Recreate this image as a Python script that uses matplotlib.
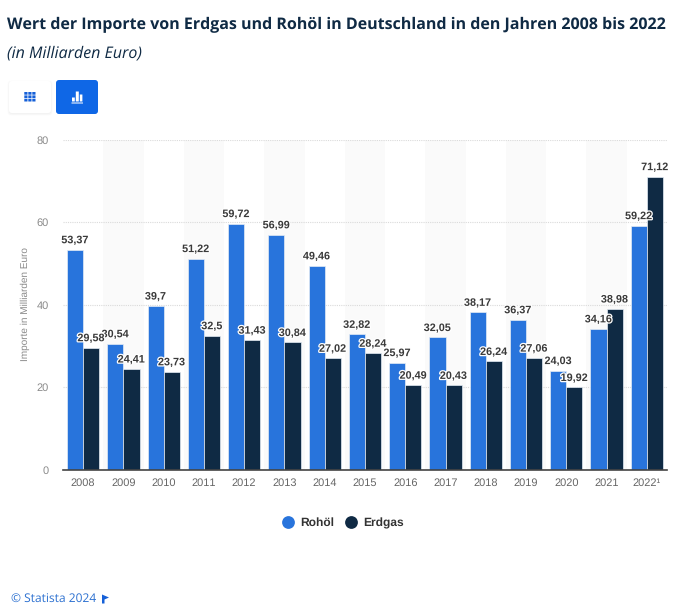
import matplotlib
matplotlib.use("Agg")
import matplotlib.pyplot as plt
import matplotlib.patheffects as pe
from matplotlib.patches import FancyBboxPatch, Rectangle, Polygon
from matplotlib.lines import Line2D
import numpy as np

plt.rcParams["text.hinting"] = "no_hinting"
plt.rcParams["text.hinting_factor"] = 1

years = ["2008","2009","2010","2011","2012","2013","2014","2015","2016","2017","2018","2019","2020","2021","2022¹"]
rohoel = [53.37,30.54,39.7,51.22,59.72,56.99,49.46,32.82,25.97,32.05,38.17,36.37,24.03,34.16,59.22]
erdgas = [29.58,24.41,23.73,32.5,31.43,30.84,27.02,28.24,20.49,20.43,26.24,27.06,19.92,38.98,71.12]
title = "Wert der Importe von Erdgas und Rohöl in Deutschland in den Jahren 2008 bis 2022"
subtitle = "(in Milliarden Euro)"
ylabel = "Importe in Milliarden Euro"
series_names = ["Rohöl", "Erdgas"]
C1, C2 = "#2874DC", "#0F2A44"

W, H = 680, 606
fig = plt.figure(figsize=(W/100, H/100), dpi=100, facecolor="white")
def fx(p): return p/W
def fy(p): return 1-p/H

L, R, T, B = 63, 667, 140, 469.5
ax = fig.add_axes([fx(L), fy(B), (R-L)/W, (B-T)/H])
x = np.arange(len(years))
ax.set_xlim(-0.5, len(years)-0.5)
ax.set_ylim(0, 80)
for i in x:
    if i % 2 == 1:
        ax.axvspan(i-0.5, i+0.5, color="#FAFAFA", lw=0, zorder=0)
ax.set_yticks([0,20,40,60,80])
ax.grid(axis="y", color="#DADADA", lw=0.8, ls=(0,(1,1)), zorder=1)
w = 0.40
b1 = ax.bar(x-w/2, rohoel, w, color=C1, edgecolor="#E4ECF5", lw=0.5, zorder=2)
b2 = ax.bar(x+w/2, erdgas, w, color=C2, edgecolor="#E4ECF5", lw=0.5, zorder=2)
halo = [pe.withStroke(linewidth=1.8, foreground="white")]
for bars, vals in ((b1, rohoel), (b2, erdgas)):
    for r, v in zip(bars, vals):
        ax.annotate(f"{v:g}".replace(".", ","), (r.get_x()+r.get_width()/2, v),
                    xytext=(0, 3), textcoords="offset points", ha="center", va="bottom",
                    fontsize=7.8, fontweight="bold", color="#3A3A3A",
                    family="Liberation Sans", zorder=5, path_effects=halo,
                    annotation_clip=False)
ax.set_xticks(x, years, family="Liberation Sans", fontsize=8, color="#666666")
ax.set_yticklabels(["0","20","40","60","80"], family="Liberation Sans", fontsize=8, color="#8A8A8A")
ax.tick_params(length=0)
ax.tick_params(axis="x", pad=6)
ax.tick_params(axis="y", pad=10)
for s in ["top","right","left"]:
    ax.spines[s].set_visible(False)
ax.spines["bottom"].set_color("#444444")
ax.spines["bottom"].set_linewidth(1.2)
ax.spines["bottom"].set_zorder(4)
fig.text(fx(25), fy(304), ylabel, rotation=90, ha="center", va="center",
         family="Liberation Sans", fontsize=7.4, color="#8A8A8A")

fig.text(fx(7), fy(25), title, family="Open Sans", fontsize=11.7, fontweight="bold", color="#0F2A44", va="center")
fig.text(fx(7), fy(53), subtitle, family="Open Sans", fontsize=11.3, style="italic", color="#0F2A44", va="center")

overlay = fig.add_axes([0,0,1,1], facecolor="none")
overlay.set_xlim(0, W); overlay.set_ylim(H, 0); overlay.axis("off")
for k in range(4):
    overlay.add_patch(FancyBboxPatch((9-k*.5, 81-k*.5+1), 42+k, 32+k, boxstyle="round,pad=0,rounding_size=3",
                      fc="#000000", ec="none", alpha=0.012))
overlay.add_patch(FancyBboxPatch((9, 81), 42, 32, boxstyle="round,pad=0,rounding_size=3", fc="white", ec="none"))
overlay.add_patch(FancyBboxPatch((56, 80), 42, 34, boxstyle="round,pad=0,rounding_size=3", fc="#0F67E6", ec="none"))
for i in range(3):
    for j in range(3):
        overlay.add_patch(Rectangle((24.3+i*4.0, 92+j*3.4), 3.2, 2.7, fc="#1560D8", ec="none", snap=False))
overlay.add_patch(Rectangle((72, 97.5), 2.8, 4, fc="white", ec="none", snap=False))
overlay.add_patch(Rectangle((75.8, 91.5), 3, 10, fc="white", ec="none", snap=False))
overlay.add_patch(Rectangle((79.8, 94.5), 2.6, 7, fc="white", ec="none", snap=False))
overlay.add_patch(Rectangle((71.5, 102.5), 11.5, 1, fc="white", ec="none", snap=False))

handles = [Line2D([], [], marker="o", ls="", ms=9.2, color=c, mew=0) for c in (C1, C2)]
leg = fig.legend(handles, series_names, loc="center", bbox_to_anchor=(fx(340), fy(523)), ncol=2, frameon=False,
                 prop={"family": "Liberation Sans", "weight": "bold", "size": 8.6},
                 handletextpad=0.0, columnspacing=0.4, labelcolor="#333333")

fig.text(fx(11), fy(598.5), "© Statista 2024", family="Open Sans", fontsize=8.3, color="#2A6FD0", va="center")
overlay.add_patch(Polygon([(102,594.5),(109,597.5),(104.5,599.5),(104.5,603.5),(102,603.5)], fc="#1560D8", ec="none"))

fig.savefig("out.png", dpi=100, facecolor="white")
